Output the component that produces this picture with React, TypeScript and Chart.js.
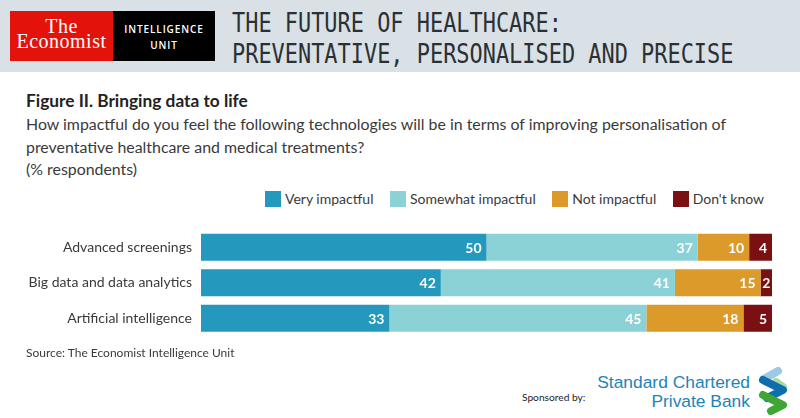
import React, { useEffect, useRef } from 'react';
import { Chart, registerables } from 'chart.js';

Chart.register(...registerables);

const categories = ['Advanced screenings', 'Big data and data analytics', 'Artificial intelligence'];
const seriesNames = ['Very impactful', 'Somewhat impactful', 'Not impactful', "Don't know"];
const seriesColors = ['#2499bd', '#8bd2d7', '#dc9a2b', '#7a1011'];

// bar lengths as measured, each row fills 100
const veryImpactful = [50, 42, 33];
const somewhatImpactful = [37, 41, 45];
const notImpactful = [9, 15, 17];
const dontKnow = [4, 2, 5];

// the printed figures are rounded and do not always agree with the bar length
const notImpactfulPrinted = [10, 15, 18];

const textFont = 'Lato, "Open Sans", sans-serif';
const textColor = '#3a3a3c';

const valueLabels = {
    id: 'valueLabels',
    afterDatasetsDraw(chart: Chart) {
        const { ctx } = chart;
        ctx.save();
        ctx.font = `700 14px ${textFont}`;
        ctx.fillStyle = '#ffffff';
        ctx.textAlign = 'right';
        ctx.textBaseline = 'middle';
        chart.data.datasets.forEach((ds: any, i) => {
            const meta = chart.getDatasetMeta(i);
            meta.data.forEach((bar: any, j) => {
                const label = String(ds.printed ? ds.printed[j] : ds.data[j]);
                const w = ctx.measureText(label).width;
                const inset = Math.min(5, (bar.width - w) / 2);
                ctx.fillText(label, bar.x - inset, bar.y + 1);
            });
        });
        ctx.restore();
    },
};

const abs = (left: number, top: number, extra: React.CSSProperties = {}): React.CSSProperties => ({
    position: 'absolute',
    left,
    top,
    whiteSpace: 'nowrap',
    ...extra,
});

const App: React.FC = () => {
    const canvasRef = useRef<HTMLCanvasElement | null>(null);

    useEffect(() => {
        const canvas = canvasRef.current;
        if (!canvas) return;
        const values = [veryImpactful, somewhatImpactful, notImpactful, dontKnow];
        const chart = new Chart(canvas, {
            type: 'bar',
            data: {
                labels: categories,
                datasets: seriesNames.map((name, i) => ({
                    label: name,
                    data: values[i],
                    backgroundColor: seriesColors[i],
                    borderWidth: 0,
                    barPercentage: 0.76,
                    categoryPercentage: 1,
                    printed: i === 2 ? notImpactfulPrinted : undefined,
                })) as any,
            },
            options: {
                indexAxis: 'y',
                responsive: false,
                animation: false,
                layout: { autoPadding: false, padding: { top: 9.5, right: 28, bottom: 14, left: 0 } },
                plugins: {
                    tooltip: { enabled: false },
                    legend: { display: false },
                },
                scales: {
                    x: { stacked: true, min: 0, max: 100, display: false },
                    y: {
                        stacked: true,
                        grid: { display: false, drawTicks: false },
                        border: { display: false },
                        afterFit: (scale: any) => {
                            scale.width = 201;
                            scale.paddingTop = 0;
                            scale.paddingBottom = 0;
                        },
                        ticks: {
                            padding: 9,
                            color: textColor,
                            font: { family: textFont, size: 14 },
                        },
                    },
                },
            },
            plugins: [valueLabels],
        });
        return () => chart.destroy();
    }, []);

    return (
        <div style={{ position: 'absolute', left: 0, top: 0, width: 800, height: 418, background: '#fff', overflow: 'hidden' }}>
            <div style={{ position: 'absolute', left: 0, top: 0, width: 800, height: 72, background: '#d9e1e6' }} />
            <div style={{ position: 'absolute', left: 10, top: 11, width: 103, height: 50, background: '#e3120b' }} />
            <div style={{ position: 'absolute', left: 113, top: 11, width: 102, height: 50, background: '#000' }} />
            <div style={abs(10, 19, { width: 103, textAlign: 'center', color: '#fff', font: '20px/15px "Liberation Serif", serif', letterSpacing: 0.5 })}>
                The<br />Economist
            </div>
            <div style={abs(113, 21, { width: 102, textAlign: 'center', color: '#fff', font: '600 10px/16px "Open Sans", sans-serif', letterSpacing: 0.9 })}>
                INTELLIGENCE<br />UNIT
            </div>
            <div style={{ ...abs(232, 8), color: '#2b3034', font: '26px/31px "DejaVu Sans Mono", monospace', transform: 'scaleX(0.843)', transformOrigin: 'left top' }}>
                THE FUTURE OF HEALTHCARE:<br />PREVENTATIVE, PERSONALISED AND PRECISE
            </div>

            <div style={abs(26, 91, { color: '#222', font: `700 17.3px/20px ${textFont}` })}>Figure II. Bringing data to life</div>
            <div style={abs(26, 113, { color: textColor, font: `15.9px/22.5px ${textFont}` })}>
                How impactful do you feel the following technologies will be in terms of improving personalisation of<br />
                preventative healthcare and medical treatments?<br />
                (% respondents)
            </div>

            <div style={abs(265, 191, { display: 'flex', gap: 16.5, height: 16, alignItems: 'center', color: textColor, font: `14px/16px ${textFont}` })}>
                {seriesNames.map((name, i) => (
                    <div key={name} style={{ display: 'flex', alignItems: 'center', gap: 4 }}>
                        <span style={{ width: 16, height: 16, background: seriesColors[i] }} />
                        <span>{name}</span>
                    </div>
                ))}
            </div>

            <canvas ref={canvasRef} width={800} height={130} style={{ position: 'absolute', left: 0, top: 220 }} />

            <div style={abs(26, 345, { color: textColor, font: `12px/16px ${textFont}` })}>Source: The Economist Intelligence Unit</div>
            <div style={abs(522, 389, { color: '#222', font: `10.2px/16px ${textFont}` })}>Sponsored by:</div>
            <div style={abs(550, 373, { width: 200, textAlign: 'right', color: '#1c85b8', font: '17.4px/19px "Liberation Sans", sans-serif' })}>
                Standard Chartered<br />Private Bank
            </div>
            <svg width={32} height={48} viewBox="0 0 32 48" style={{ position: 'absolute', left: 757, top: 367 }} fill="none">
                <path d="M21 4 L7 12" stroke="#9cc9e4" strokeWidth={8} strokeLinecap="round" />
                <path d="M26 20 L19 15" stroke="#a9d8a5" strokeWidth={8} strokeLinecap="round" />
                <path d="M6 13 L26 23 L10 31" stroke="#0f6fae" strokeWidth={8} strokeLinecap="round" strokeLinejoin="round" />
                <path d="M6 28 L26 38 L14 44" stroke="#3fa535" strokeWidth={8} strokeLinecap="round" strokeLinejoin="round" />
            </svg>
        </div>
    );
};

export default App;
